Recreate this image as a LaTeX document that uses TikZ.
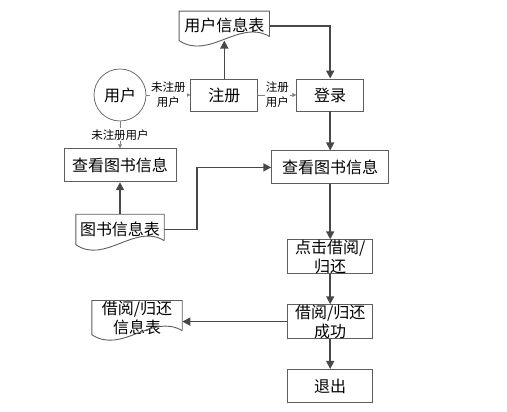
\documentclass[tikz,border=0pt]{standalone}
\usepackage{fontspec}
\setmainfont{Noto Sans CJK SC}
\usepackage{tikz}
\usetikzlibrary{positioning, arrows.meta, calc}
\definecolor{edgegray}{HTML}{5E5E5E}
\definecolor{arrgray}{HTML}{484848}
\tikzset{
  blk/.style={rectangle, draw=edgegray, line width=0.9pt, align=center,
              fill=white, minimum height=33pt, inner sep=2pt,
              font=\fontsize{16}{19}\selectfont},
  doc/.style={rectangle, align=center, minimum height=30pt, inner sep=2pt,
              font=\fontsize{16}{19}\selectfont},
  usr/.style={circle, draw=edgegray, line width=0.7pt, minimum size=52pt,
              inner sep=0pt, font=\fontsize{16}{19}\selectfont},
  arr/.style={-{Triangle[length=8pt,width=8pt]}, line width=1.6pt, draw=arrgray},
  tarr/.style={-{Triangle[length=4pt,width=4pt]}, line width=0.6pt, draw=gray},
  lbl/.style={fill=white, inner sep=1pt, align=center,
              font=\fontsize{11.5}{15}\selectfont},
}
% document outline with wavy bottom
\newcommand{\docframe}[1]{%
  \draw[edgegray, line width=0.9pt] ($(#1.south east)+(0,4pt)$) -- (#1.north east)
    -- (#1.north west) -- (#1.south west)
    .. controls ($(#1.south west)!0.33!(#1.south east)+(0,-20pt)$)
    and ($(#1.south east)!0.33!(#1.south west)+(0,22pt)$) .. ($(#1.south east)+(0,4pt)$);}

\begin{document}
\begin{tikzpicture}
  \useasboundingbox (0,0) rectangle (507pt,-412pt);
  \node[usr] (user) at (120pt,-95pt) {用户};
  \node[blk, minimum width=67pt, minimum height=32pt, right=44pt of user] (reg) {注册};
  \node[blk, minimum width=67pt, minimum height=32pt, right=38pt of reg] (login) {登录};
  \node[doc, minimum width=90pt, minimum height=29pt, above=38pt of reg] (utab) {用户信息表};
  \node[blk, minimum width=112pt, below=27pt of user] (lview) {查看图书信息};
  \node[blk, minimum width=117pt, below=39pt of login] (rview) {查看图书信息};
  \node[doc, minimum width=88pt, below=32pt of lview] (btab) {图书信息表};
  \node[blk, minimum width=85pt, minimum height=34pt, inner ysep=0pt, below=55pt of rview] (borrow) {点击借阅/\\归还};
  \node[blk, minimum width=85pt, minimum height=32pt, inner ysep=0pt, below=30pt of borrow] (done) {借阅/归还\\成功};
  \node[blk, minimum width=85pt, below=30pt of done] (quit) {退出};
  \node[doc, minimum width=90pt, minimum height=32pt, inner ysep=0pt, left=105pt of done, yshift=4pt] (rtab) {借阅/归还\\信息表};
  \docframe{utab}
  \docframe{btab}
  \docframe{rtab}

  \draw[tarr] (user) -- node[lbl]{未注册\\用户} (reg);
  \draw[tarr] (reg) -- node[lbl]{注册\\用户} (login);
  \draw[tarr] (user) -- node[lbl]{未注册用户} (lview);
  \draw[arr] (reg) -- (utab);
  \draw[arr] (utab.east) -| (login.north);
  \draw[arr] (login) -- (rview);
  \draw[arr] (btab) -- (lview);
  \draw[arr] (btab.east) -- ++(33pt,0) |- (rview.west);
  \draw[arr] (rview) -- (borrow);
  \draw[arr] (borrow) -- (done);
  \draw[arr] (done) -- (quit);
  \draw[arr] (done.west) -- (done.west -| rtab.east);
\end{tikzpicture}
\end{document}
